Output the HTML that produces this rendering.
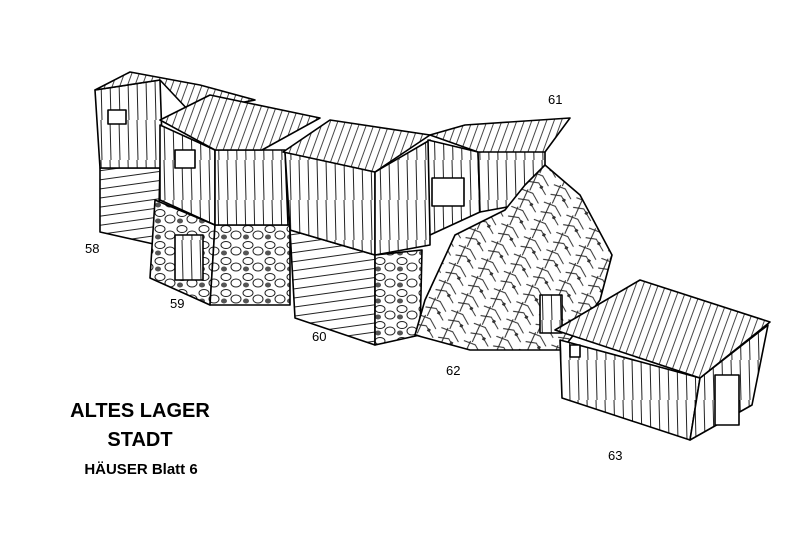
<!DOCTYPE html>
<html><head><meta charset="utf-8"><style>
html,body{margin:0;padding:0;background:#fff;}
svg{display:block;}
text{font-family:"Liberation Sans",sans-serif;fill:#000;}
</style></head><body>
<svg width="800" height="543" viewBox="0 0 800 543" xmlns="http://www.w3.org/2000/svg">
<defs>
<pattern id="wv" width="9" height="40" patternUnits="userSpaceOnUse">
<rect width="9" height="40" fill="#fff"/><line x1="2" y1="0" x2="3" y2="40" stroke="#222" stroke-width="1"/>
</pattern>
<pattern id="wh" width="40" height="9" patternUnits="userSpaceOnUse" patternTransform="rotate(-8)">
<rect width="40" height="9" fill="#fff"/><line x1="0" y1="3" x2="40" y2="3" stroke="#222" stroke-width="1"/>
</pattern>
<pattern id="rf" width="7" height="40" patternUnits="userSpaceOnUse" patternTransform="rotate(20)">
<rect width="7" height="40" fill="#fff"/><line x1="2" y1="0" x2="2" y2="40" stroke="#333" stroke-width="0.9"/>
</pattern>
<pattern id="st" width="22" height="16" patternUnits="userSpaceOnUse">
<rect width="22" height="16" fill="#fff"/>
<ellipse cx="6" cy="5" rx="5" ry="3.5" fill="none" stroke="#222" stroke-width="1"/>
<ellipse cx="16" cy="11" rx="5" ry="4" fill="none" stroke="#222" stroke-width="1"/>
<ellipse cx="4" cy="13" rx="3" ry="2.5" fill="#555"/>
</pattern>
<pattern id="rb" width="26" height="20" patternUnits="userSpaceOnUse" patternTransform="rotate(30)">
<rect width="26" height="20" fill="#fff"/>
<path d="M0 3 L12 1 L22 7 M2 13 L12 9 L24 16 M6 0 L8 20" stroke="#222" stroke-width="1" fill="none"/>
<rect x="15" y="10" width="3" height="3" fill="#333"/>
</pattern>
</defs>
<g stroke="#000" stroke-width="1.6" stroke-linejoin="round">
<polygon points="100,168 160,168 158,245 100,232" fill="url(#wh)"/>
<polygon points="95,90 160,80 163,168 100,168" fill="url(#wv)"/>
<polygon points="95,90 130,72 200,85 255,100 190,112 160,80" fill="url(#rf)"/>
<rect x="108" y="110" width="18" height="14" fill="#fff"/>
<polygon points="155,200 215,225 210,305 150,278" fill="url(#st)"/>
<polygon points="215,225 290,225 290,305 210,305" fill="url(#st)"/>
<rect x="175" y="235" width="28" height="45" fill="url(#wv)"/>
<polygon points="160,125 215,150 215,225 160,200" fill="url(#wv)"/>
<polygon points="215,150 285,150 288,225 215,225" fill="url(#wv)"/>
<polygon points="160,120 210,95 320,118 262,150 215,150" fill="url(#rf)"/>
<rect x="175" y="150" width="20" height="18" fill="#fff"/>
<polygon points="290,230 375,255 375,345 295,318" fill="url(#wh)"/>
<polygon points="375,255 422,250 420,335 375,345" fill="url(#st)"/>
<polygon points="285,152 375,172 375,255 290,230" fill="url(#wv)"/>
<polygon points="375,172 430,140 430,245 375,255" fill="url(#wv)"/>
<polygon points="283,152 330,120 430,135 375,172" fill="url(#rf)"/>
<polygon points="428,140 478,152 480,212 430,235" fill="url(#wv)"/>
<polygon points="478,152 545,148 545,200 480,212" fill="url(#wv)"/>
<polygon points="430,135 465,125 570,118 545,152 478,152" fill="url(#rf)"/>
<rect x="432" y="178" width="32" height="28" fill="#fff"/>
<polygon points="425,300 455,235 505,210 525,185 545,165 580,195 612,255 600,300 562,350 470,350 415,335" fill="url(#rb)"/>
<rect x="540" y="295" width="22" height="38" fill="url(#wv)"/>
<polygon points="560,340 700,378 690,440 562,398" fill="url(#wv)"/>
<polygon points="700,378 768,325 752,405 690,440" fill="url(#wv)"/>
<polygon points="555,330 640,280 770,322 700,378" fill="url(#rf)"/>
<rect x="715" y="375" width="24" height="50" fill="#fff"/>
<rect x="570" y="345" width="10" height="12" fill="#fff"/>
</g>
<g font-size="13">
<text x="85" y="253">58</text>
<text x="170" y="308">59</text>
<text x="312" y="341">60</text>
<text x="548" y="104">61</text>
<text x="446" y="375">62</text>
<text x="608" y="460">63</text>
</g>
<text x="140" y="417" font-size="20" font-weight="bold" text-anchor="middle">ALTES LAGER</text>
<text x="140" y="446" font-size="20" font-weight="bold" text-anchor="middle">STADT</text>
<text x="141" y="474" font-size="15" font-weight="bold" text-anchor="middle">HÄUSER Blatt 6</text>
</svg>
</body></html>
